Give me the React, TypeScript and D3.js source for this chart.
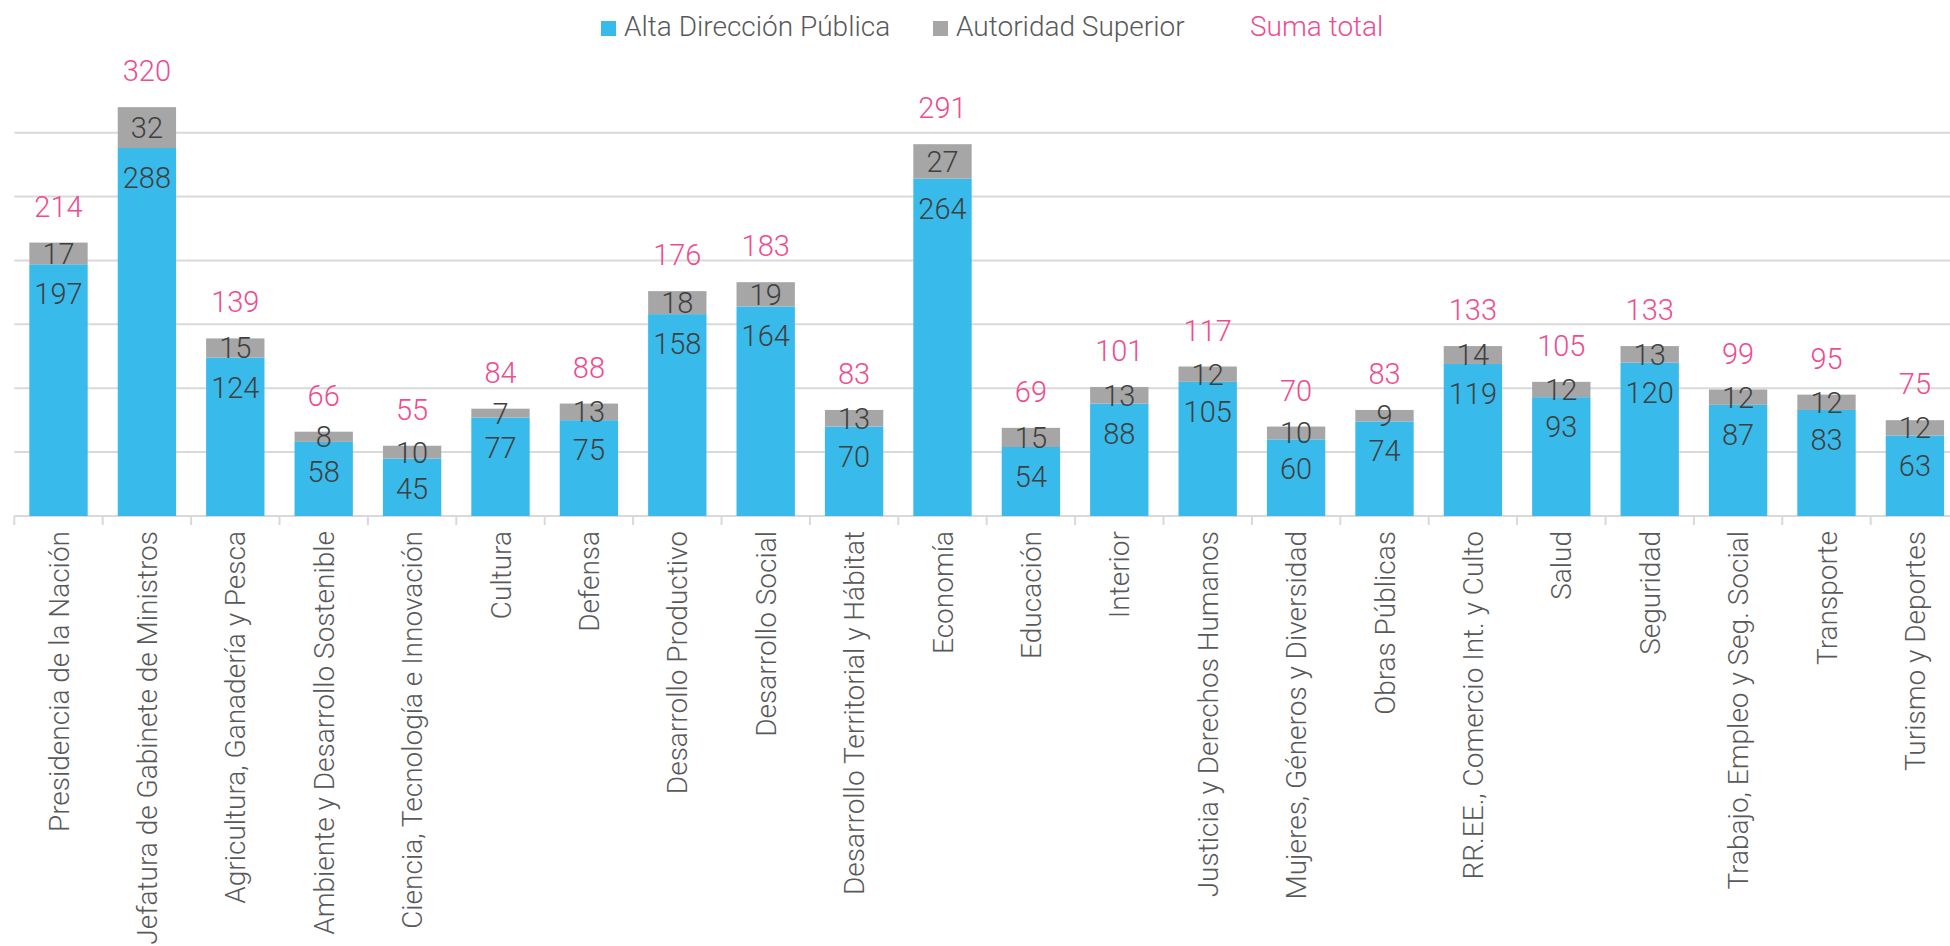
import React, { useEffect, useRef } from 'react';
import * as d3 from 'd3';

const categories = [
    'Presidencia de la Nación',
    'Jefatura de Gabinete de Ministros',
    'Agricultura, Ganadería y Pesca',
    'Ambiente y Desarrollo Sostenible',
    'Ciencia, Tecnología e Innovación',
    'Cultura',
    'Defensa',
    'Desarrollo Productivo',
    'Desarrollo Social',
    'Desarrollo Territorial y Hábitat',
    'Economía',
    'Educación',
    'Interior',
    'Justicia y Derechos Humanos',
    'Mujeres, Géneros y Diversidad',
    'Obras Públicas',
    'RR.EE., Comercio Int. y Culto',
    'Salud',
    'Seguridad',
    'Trabajo, Empleo y Seg. Social',
    'Transporte',
    'Turismo y Deportes',
];

const altaDireccion = [197, 288, 124, 58, 45, 77, 75, 158, 164, 70, 264, 54, 88, 105, 60, 74, 119, 93, 120, 87, 83, 63];
const autoridadSuperior = [17, 32, 15, 8, 10, 7, 13, 18, 19, 13, 27, 15, 13, 12, 10, 9, 14, 12, 13, 12, 12, 12];
const sumaTotal = [214, 320, 139, 66, 55, 84, 88, 176, 183, 83, 291, 69, 101, 117, 70, 83, 133, 105, 133, 99, 95, 75];

const gridTicks = [50, 100, 150, 200, 250, 300];

const BLUE = '#38BAEA';
const GRAY = '#A6A6A6';
const PINK = '#F04B8F';
const FONT = 'Roboto, "Noto Sans", sans-serif';

const App = () => {
    const chartRef = useRef<HTMLDivElement>(null);

    useEffect(() => {
        document.body.style.margin = '0';
        const width = 1950;
        const height = 946;
        const left = 14.3;
        const step = 88.4;
        const baseY = 516;

        const x = d3
            .scaleBand()
            .domain(categories)
            .range([left, left + step * categories.length])
            .paddingInner(0.34)
            .paddingOuter(0.17);

        const y = d3.scaleLinear().domain([0, 300]).range([baseY, 132.7]);

        const root = d3.select(chartRef.current);
        root.selectAll('*').remove();
        const svg = root
            .append('svg')
            .attr('width', width)
            .attr('height', height)
            .style('display', 'block')
            .style('font-family', FONT)
            .style('font-weight', 300);

        // gridlines
        svg.selectAll('.grid')
            .data(gridTicks)
            .enter().append('line')
            .attr('x1', left)
            .attr('x2', width)
            .attr('y1', d => y(d))
            .attr('y2', d => y(d))
            .attr('stroke', '#D9D9D9')
            .attr('stroke-width', 2);

        // axis
        svg.append('line')
            .attr('x1', left)
            .attr('x2', width)
            .attr('y1', y(0))
            .attr('y2', y(0))
            .attr('stroke', '#D9D9D9')
            .attr('stroke-width', 2);

        svg.selectAll('.tick')
            .data(d3.range(categories.length + 1))
            .enter().append('line')
            .attr('x1', i => left + i * x.step())
            .attr('x2', i => left + i * x.step())
            .attr('y1', y(0))
            .attr('y2', y(0) + 9)
            .attr('stroke', '#D9D9D9')
            .attr('stroke-width', 2);

        const rows = categories.map((c, i) => ({
            c,
            a: altaDireccion[i],
            s: autoridadSuperior[i],
            t: sumaTotal[i],
        }));

        // blue segments
        svg.selectAll('.alta')
            .data(rows)
            .enter().append('rect')
            .attr('x', d => x(d.c))
            .attr('width', x.bandwidth())
            .attr('y', d => y(d.a))
            .attr('height', d => y(0) - y(d.a))
            .attr('fill', BLUE);

        // gray segments
        svg.selectAll('.aut')
            .data(rows)
            .enter().append('rect')
            .attr('x', d => x(d.c))
            .attr('width', x.bandwidth())
            .attr('y', d => y(d.a + d.s))
            .attr('height', d => y(d.a) - y(d.a + d.s))
            .attr('fill', GRAY);

        const cx = d => x(d.c) + x.bandwidth() / 2;

        svg.selectAll('.lab-a')
            .data(rows)
            .enter().append('text')
            .attr('x', cx)
            .attr('y', d => y(d.a) + 40)
            .attr('text-anchor', 'middle')
            .attr('fill', '#404040')
            .style('font-size', '29px')
            .text(d => d.a);

        svg.selectAll('.lab-s')
            .data(rows)
            .enter().append('text')
            .attr('x', cx)
            .attr('y', d => (y(d.a) + y(d.a + d.s)) / 2)
            .attr('dy', '0.36em')
            .attr('text-anchor', 'middle')
            .attr('fill', '#404040')
            .style('font-size', '29px')
            .text(d => d.s);

        svg.selectAll('.lab-t')
            .data(rows)
            .enter().append('text')
            .attr('x', cx)
            .attr('y', d => y(d.t) - 26)
            .attr('text-anchor', 'middle')
            .attr('fill', PINK)
            .style('font-size', '29px')
            .text(d => d.t);

        // category labels
        svg.selectAll('.cat')
            .data(categories)
            .enter().append('text')
            .attr('transform', d => `translate(${x(d) + x.bandwidth() / 2}, ${baseY + 15}) rotate(-90)`)
            .attr('dy', '0.36em')
            .attr('text-anchor', 'end')
            .attr('fill', '#595959')
            .style('font-size', '28px')
            .text(d => d);

        // legend
        const legend = svg.append('g').style('font-size', '28px');
        legend.append('rect').attr('x', 601).attr('y', 21).attr('width', 15).attr('height', 15).attr('fill', BLUE);
        legend.append('text').attr('x', 624).attr('y', 36).attr('fill', '#595959').text('Alta Dirección Pública');
        legend.append('rect').attr('x', 933).attr('y', 21).attr('width', 15).attr('height', 15).attr('fill', GRAY);
        legend.append('text').attr('x', 956).attr('y', 36).attr('fill', '#595959').text('Autoridad Superior');
        legend.append('text').attr('x', 1250).attr('y', 36).attr('fill', PINK).text('Suma total');
    }, []);

    return <div ref={chartRef} className=""></div>;
};

export default App;
